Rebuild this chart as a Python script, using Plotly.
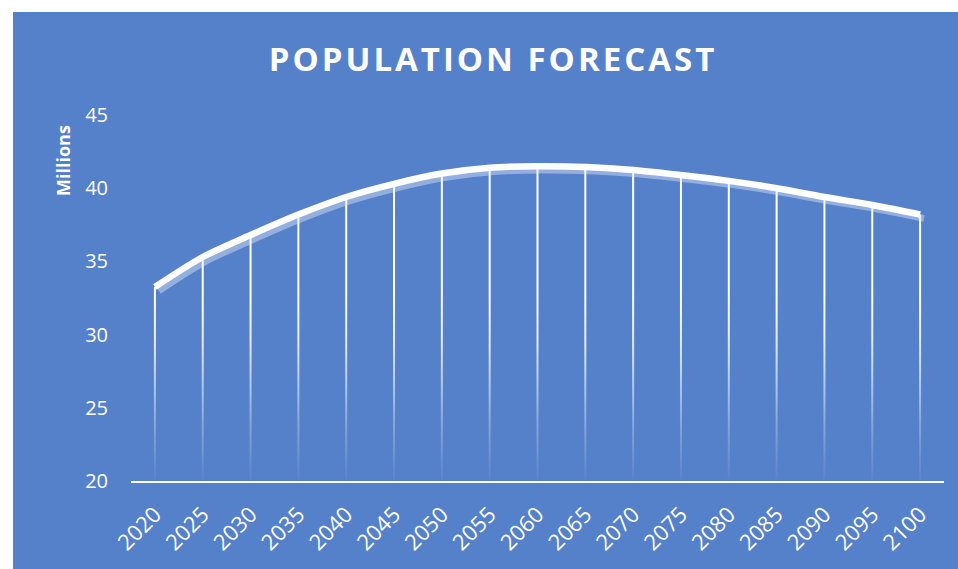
import plotly.graph_objects as go

years = [2020, 2025, 2030, 2035, 2040, 2045, 2050, 2055, 2060,
         2065, 2070, 2075, 2080, 2085, 2090, 2095, 2100]
population = [33.25, 35.3, 36.8, 38.2, 39.4, 40.3, 41.0, 41.4, 41.5,
              41.45, 41.25, 40.9, 40.5, 40.0, 39.4, 38.85, 38.2]
y_ticks = [20, 25, 30, 35, 40, 45]
title_text = "POPULATION FORECAST"
y_title = "Millions"

BLUE = "#5580CA"
W, H = 958, 569
L, R, T, B = 131, 14, 115, 88
pw, ph = W - L - R, H - T - B

def px_x(p):
    return (p - L) / pw

def px_y(p):
    return (H - B - p) / ph

fig = go.Figure()

# drop lines (thin filled rects with vertical gradient)
hw = 0.105
dx, dy = [], []
for yr, v in zip(years, population):
    dx += [yr - hw, yr + hw, yr + hw, yr - hw, yr - hw, None]
    dy += [20, 20, v, v, 20, None]
fig.add_trace(go.Scatter(
    x=dx, y=dy, mode="lines", fill="toself", line=dict(width=0),
    fillgradient=dict(type="vertical", start=20, stop=33,
                      colorscale=[[0, "rgba(255,255,255,0.03)"],
                                  [0.3, "rgba(255,255,255,0.3)"],
                                  [0.75, "rgba(255,255,255,0.85)"],
                                  [1, "rgba(255,255,255,1)"]]),
    hoverinfo="skip", showlegend=False))

# shadow
sx = 4 / (pw / 17) * 5
sy = 4 / (ph / 25)
fig.add_trace(go.Scatter(
    x=[yr + sx for yr in years], y=[v - sy for v in population],
    mode="lines", line=dict(color="rgba(225,232,248,0.45)", width=6.5, shape="spline", smoothing=0.8),
    hoverinfo="skip", showlegend=False))

fig.add_trace(go.Scatter(
    x=years, y=population, mode="lines",
    line=dict(color="white", width=6.5, shape="spline", smoothing=0.8),
    showlegend=False))

fig.update_layout(
    width=W, height=H,
    margin=dict(l=L, r=R, t=T, b=B),
    paper_bgcolor=BLUE, plot_bgcolor="rgba(0,0,0,0)",
    title=dict(text=title_text, x=493 / W, xanchor="center", y=1 - 59 / H, yanchor="middle",
               yref="container", xref="container",
               font=dict(family="Open Sans", size=33, color="white", weight="bold")),
    xaxis=dict(range=[years[0] - 2.5, years[-1] + 2.5], tickvals=years,
               ticktext=[str(y) for y in years], tickangle=-45,
               showgrid=False, zeroline=False, showline=True, linecolor="white", linewidth=2,
               ticks="", ticklabelstandoff=10,
               tickfont=dict(family="Open Sans", size=22, color="white")),
    yaxis=dict(range=[20, 45], tickvals=y_ticks, showgrid=False, zeroline=False,
               showline=False, ticks="", ticklabelstandoff=22,
               tickfont=dict(family="Open Sans", size=20, color="white")),
    shapes=[
        dict(type="rect", xref="paper", yref="paper", x0=px_x(0), x1=px_x(W), y0=px_y(12), y1=px_y(0),
             fillcolor="white", line=dict(width=0), layer="below"),
        dict(type="rect", xref="paper", yref="paper", x0=px_x(0), x1=px_x(13), y0=px_y(H), y1=px_y(0),
             fillcolor="white", line=dict(width=0), layer="below"),
    ],
    annotations=[dict(text=y_title, xref="paper", yref="paper", x=px_x(63), y=px_y(161),
                      textangle=-90, showarrow=False, xanchor="center", yanchor="middle",
                      font=dict(family="Open Sans", size=18, color="white", weight="bold"))],
)

post = """
document.body.style.margin = '0';
document.body.style.padding = '0';
var t = document.querySelectorAll('.gtitle');
t.forEach(function(e){ e.style.letterSpacing = '3px'; });
"""
fig.write_html("out.html", post_script=post, config={"displayModeBar": False})
